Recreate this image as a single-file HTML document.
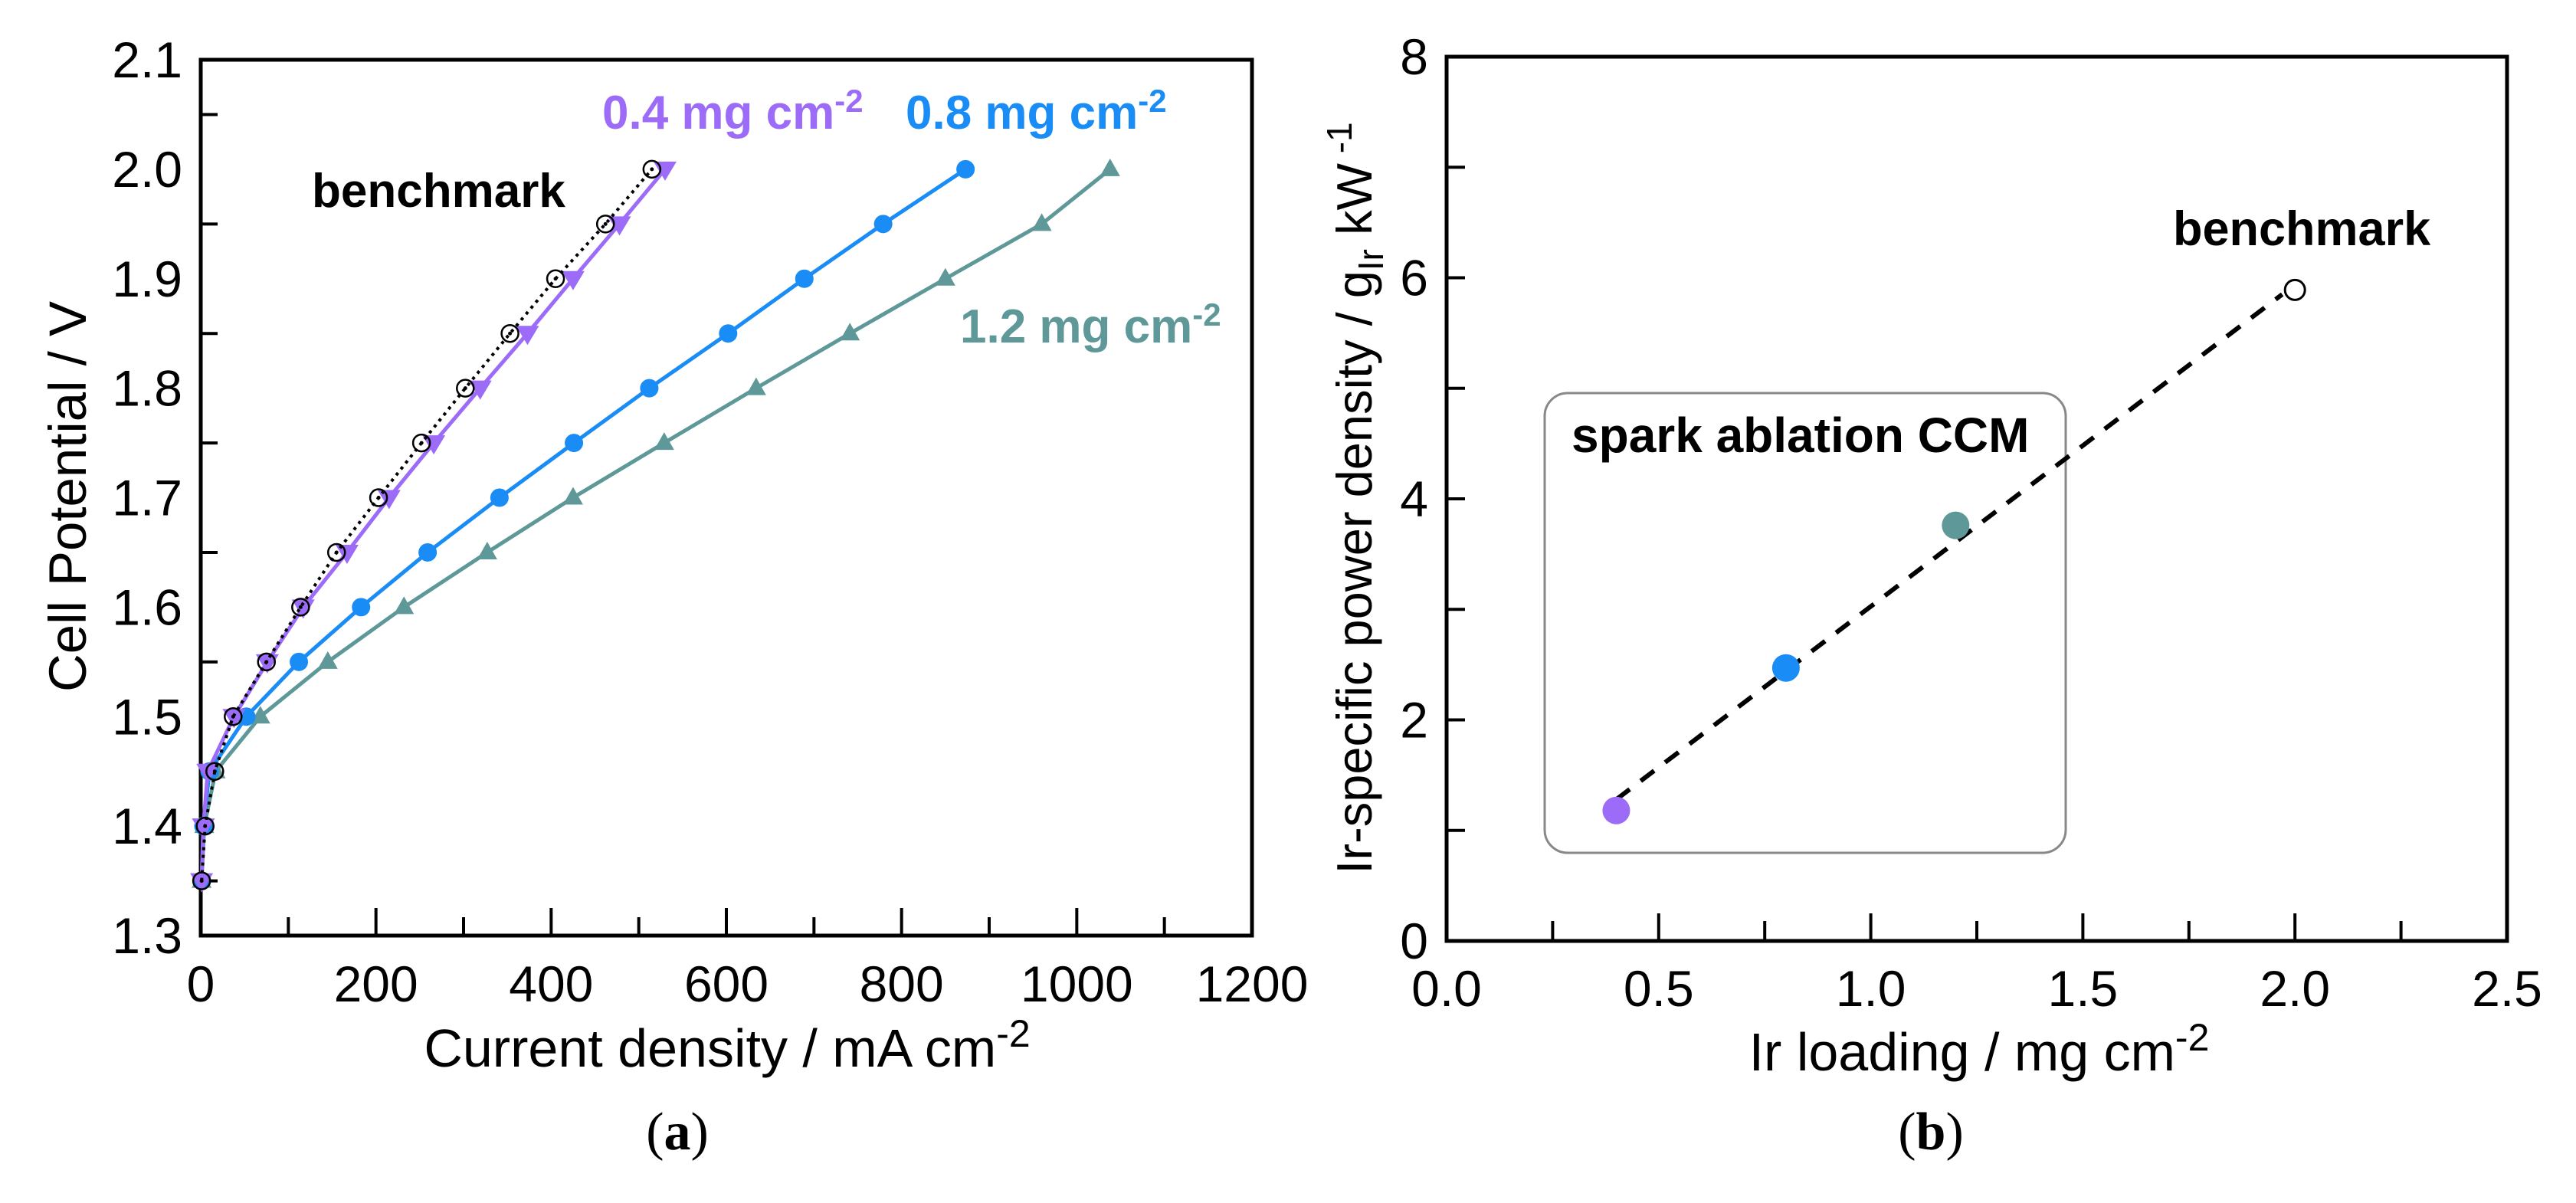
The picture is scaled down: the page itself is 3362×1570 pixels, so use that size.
<!DOCTYPE html>
<html><head><meta charset="utf-8"><style>
html,body{margin:0;padding:0;background:#fff;}
svg{display:block;font-family:"Liberation Sans",Arial,sans-serif;}
</style></head><body>
<svg id="fig" width="3362" height="1570" viewBox="0 0 3362 1570"></svg>
<script>
// ---- Panel (a) data ----
const potentials = [1.35,1.40,1.45,1.50,1.55,1.60,1.65,1.70,1.75,1.80,1.85,1.90,1.95,2.00];
const benchmarkCurrent = [1,5,16,37,75,114,155,203,252,302,353,405,462,515];
const load04Current = [1,3,8,38,76,117,167,215,266,319,373,425,478,530];
const load08Current = [1,3,10,52,112,183,259,341,426,512,602,689,779,873];
const load12Current = [1,4,17,68,145,232,327,425,529,634,741,850,960,1038];
const aXTicks = [0,200,400,600,800,1000,1200];
const aYTicks = [1.3,1.4,1.5,1.6,1.7,1.8,1.9,2.0,2.1];
// ---- Panel (b) data ----
const loadings = [0.4,0.8,1.2];
const specificPower = [1.18,2.47,3.76];
const benchLoading = [2.0];
const benchPower = [5.89];
const fitX = [0.4,1.97];
const fitY = [1.28,5.85];
const bXTicks = ["0.0","0.5","1.0","1.5","2.0","2.5"];
const bYTicks = [0,2,4,6,8];

const NS="http://www.w3.org/2000/svg";
const svg=document.getElementById('fig');
function mk(tag,attrs,parent){const e=document.createElementNS(NS,tag);for(const k in attrs)e.setAttribute(k,attrs[k]);(parent||svg).appendChild(e);return e;}

// ---------- Panel A ----------
const A={l:262,r:1634,t:78,b:1221};
const ax=v=>A.l+(v-0)/1200*(A.r-A.l);
const ay=v=>A.b-(v-1.3)/0.8*(A.b-A.t);
const gA=mk('g',{});


let e=mk('path',{d:`M${A.l},${A.t} H${A.r} V${A.b} H${A.l} Z`,fill:'none',stroke:'#000','stroke-width':5},gA);

for(let i=0;i<=12;i++){const v=i*100;const x=ax(v);const len=i%2==0?36:24;
 e=mk('line',{x1:x,y1:A.b,x2:x,y2:A.b-len,stroke:'#000','stroke-width':4},gA);
 }
for(let i=0;i<=16;i++){const v=1.3+i*0.05;const y=ay(v);if(i%2==0)continue;
 e=mk('line',{x1:A.l,y1:y,x2:A.l+22,y2:y,stroke:'#000','stroke-width':4},gA);
 }
aXTicks.forEach(v=>{e=mk('text',{x:ax(v),y:1307,'font-size':66,'text-anchor':'middle'},gA);e.textContent=String(v);
 });
aYTicks.forEach(v=>{e=mk('text',{x:238,y:ay(v)+23,'font-size':66,'text-anchor':'end'},gA);e.textContent=v.toFixed(1);
 });
e=mk('text',{x:949,y:1392,'font-size':70,'text-anchor':'middle'},gA);
e.innerHTML='Current density / mA cm<tspan dy="-26" font-size="50">-2</tspan>';

e=mk('text',{x:0,y:0,'font-size':69,'text-anchor':'middle',transform:'translate(112,648) rotate(-90)'},gA);
e.textContent='Cell Potential / V';


function series(xs,color,dash,name){
 const pts=xs.map((c,i)=>[ax(c),ay(potentials[i])]);
 const p=mk('polyline',{points:pts.map(p=>p.join(',')).join(' '),fill:'none',stroke:color,'stroke-width':dash?4:5,'stroke-dasharray':dash||'none','stroke-linejoin':'round'},gA);
 
 return pts;}
let pts=series(load12Current,'#5e9898',null,'series-1-2');
pts.forEach(([x,y])=>{e=mk('path',{d:`M${x},${y-14} L${x+13},${y+9} L${x-13},${y+9} Z`,fill:'#5e9898'},gA);
 });
pts=series(load08Current,'#1a8cf5',null,'series-0-8');
pts.forEach(([x,y])=>{e=mk('circle',{cx:x,cy:y,r:12,fill:'#1a8cf5'},gA);
 });
pts=series(load04Current,'#9c6cf8',null,'series-0-4');
pts.forEach(([x,y])=>{e=mk('path',{d:`M${x-15},${y-10} L${x+15},${y-10} L${x},${y+15} Z`,fill:'#9c6cf8'},gA);
 });
pts=series(benchmarkCurrent,'#000','4 6','series-benchmark');
pts.forEach(([x,y])=>{e=mk('circle',{cx:x,cy:y,r:11,fill:'none',stroke:'#000','stroke-width':2.5},gA);
 
 mk('circle',{cx:x,cy:y,r:2.5,fill:'#000'},gA);});

function label(x,y,txt,color,name){e=mk('text',{x:x,y:y,'font-size':62,'font-weight':'bold',fill:color},gA);
 e.innerHTML=txt;}
label(786,168,'0.4 mg cm<tspan dy="-22" font-size="42">-2</tspan>','#9c6cf8','label-0-4');
label(1182,168,'0.8 mg cm<tspan dy="-22" font-size="42">-2</tspan>','#1a8cf5','label-0-8');
label(1253,447,'1.2 mg cm<tspan dy="-22" font-size="42">-2</tspan>','#5e9898','label-1-2');
label(407,270,'benchmark','#000','label-benchmark-a');
e=mk('text',{x:884,y:1500,'font-size':70,'text-anchor':'middle','font-family':'"Liberation Serif",serif'},gA);
e.innerHTML='(<tspan font-weight="bold">a</tspan>)';


// ---------- Panel B ----------
const B={l:1888,r:3272,t:74,b:1228};
const bx=v=>B.l+v/2.5*(B.r-B.l);
const by=v=>B.b-v/8*(B.b-B.t);
const gB=mk('g',{});


e=mk('path',{d:`M${B.l},${B.t} H${B.r} V${B.b} H${B.l} Z`,fill:'none',stroke:'#000','stroke-width':5},gB);

for(let i=1;i<=9;i++){const x=bx(i*0.25);const len=i%2==0?36:26;
 e=mk('line',{x1:x,y1:B.b,x2:x,y2:B.b-len,stroke:'#000','stroke-width':4},gB);
 }
for(let i=1;i<=7;i++){const y=by(i);
 e=mk('line',{x1:B.l,y1:y,x2:B.l+24,y2:y,stroke:'#000','stroke-width':4},gB);
 }
bXTicks.forEach(s=>{e=mk('text',{x:bx(parseFloat(s)),y:1313,'font-size':66,'text-anchor':'middle'},gB);e.textContent=s;
 });
bYTicks.forEach(v=>{e=mk('text',{x:1864,y:by(v)+23,'font-size':66,'text-anchor':'end'},gB);e.textContent=String(v);
 });
e=mk('text',{x:2583,y:1397,'font-size':70,'text-anchor':'middle'},gB);
e.innerHTML='Ir loading / mg cm<tspan dy="-26" font-size="50">-2</tspan>';

e=mk('text',{x:0,y:0,'font-size':65,'text-anchor':'middle',transform:'translate(1790,650) rotate(-90)'},gB);
e.innerHTML='Ir-specific power density / g<tspan dy="15" font-size="46">Ir</tspan><tspan dy="-15">  kW</tspan><tspan dy="-26" font-size="46"> -1</tspan>';

e=mk('rect',{x:2016,y:513,width:680,height:600,rx:30,fill:'none',stroke:'#888','stroke-width':3},gB);

e=mk('text',{x:2051,y:590,'font-size':64,'font-weight':'bold'},gB);e.textContent='spark ablation CCM';

e=mk('line',{x1:bx(fitX[0]),y1:by(fitY[0]),x2:bx(fitX[1]),y2:by(fitY[1]),stroke:'#000','stroke-width':6,'stroke-dasharray':'22 18'},gB);

const bColors=['#9c6cf8','#1a8cf5','#5e9898'];
loadings.forEach((l,i)=>{e=mk('circle',{cx:bx(l),cy:by(specificPower[i]),r:18,fill:bColors[i]},gB);
 });
benchLoading.forEach((l,i)=>{e=mk('circle',{cx:bx(l),cy:by(benchPower[i]),r:13,fill:'#fff',stroke:'#000','stroke-width':3},gB);
 });
e=mk('text',{x:2836,y:320,'font-size':63,'font-weight':'bold'},gB);e.textContent='benchmark';

e=mk('text',{x:2520,y:1500,'font-size':70,'text-anchor':'middle','font-family':'"Liberation Serif",serif'},gB);
e.innerHTML='(<tspan font-weight="bold">b</tspan>)';

</script>
</body></html>
